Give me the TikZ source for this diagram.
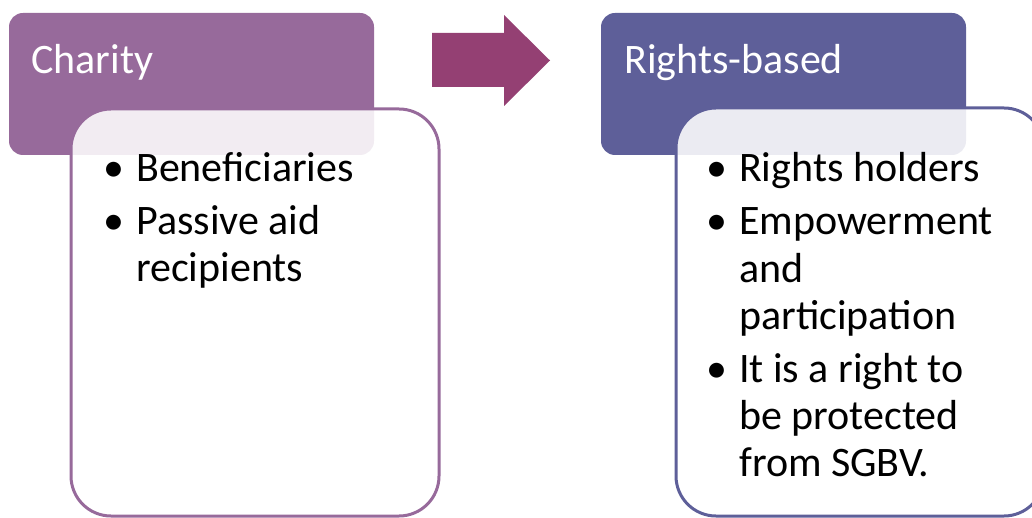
\documentclass[tikz,border=0pt]{standalone}
\usepackage{fontspec}
\setmainfont{Carlito}
\definecolor{charity}{HTML}{976A9B}
\definecolor{rights}{HTML}{5E5F99}
\definecolor{arrowcol}{HTML}{944073}
\newcommand{\bul}{\llap{\textbullet\hskip 12pt}}
\tikzset{
  head/.style={rounded corners=14pt},
  body/.style={rounded corners=40pt, line width=3pt, fill=white, fill opacity=0.88},
  title/.style={anchor=base west, inner sep=0pt, text=white, font=\fontsize{42}{47}\selectfont},
  itm/.style={anchor=base west, inner sep=0pt, align=left, font=\fontsize{42}{47}\selectfont}
}
\begin{document}
\begin{tikzpicture}[x=1pt,y=-1pt]
  \useasboundingbox (0,0) rectangle (1032,518);
  \clip (0,0) rectangle (1032,518);
  % headers
  \fill[charity,head] (9,13) rectangle (374,155);
  \fill[rights,head] (601,13) rectangle (966,155);
  % bodies
  \draw[charity,body] (71,109) rectangle (439,516);
  \draw[rights,body] (676,108) rectangle (1044,516);
  % arrow
  \fill[arrowcol] (432,33) -- (504,33) -- (504,15) -- (550,60.5) -- (504,106)
    -- (504,87) -- (432,87) -- cycle;

  \node[title] (charity) at (31,74) {Charity};
  \node[title] (rb) at (624,74) {Rights-based};

  % items, placed by the baseline of their last line
  \node[itm] (c1) at (136,182) {\bul Beneficiaries};
  \node[itm] (c2) at (136,282) {\bul Passive aid\\recipients};
  \node[itm] (r1) at (739,182) {\bul Rights holders};
  \node[itm] (r2) at (739,329) {\bul Empowerment\\and\\participation};
  \node[itm] (r3) at (739,476) {\bul It is a right to\\be protected\\from SGBV.};
\end{tikzpicture}
\end{document}
